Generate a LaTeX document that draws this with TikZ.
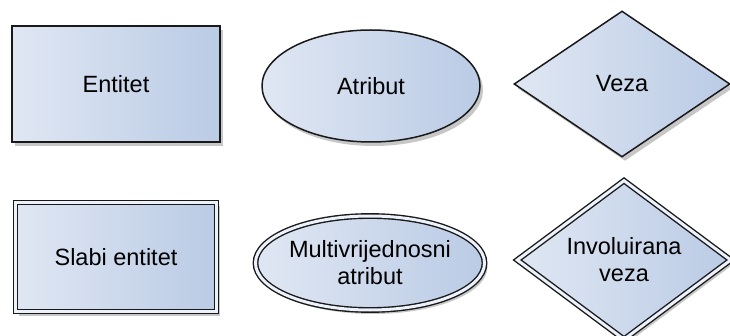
\documentclass[tikz,border=0pt]{standalone}
\usepackage{fontspec}
\setmainfont{Liberation Sans}
\usetikzlibrary{shapes.geometric}
\usetikzlibrary{shadows}

\definecolor{lite}{RGB}{224,231,243}
\definecolor{dark}{RGB}{186,203,229}
\definecolor{edge}{RGB}{25,25,25}
\definecolor{gap}{RGB}{236,241,250}

\begin{document}
\begin{tikzpicture}[x=1pt, y=-1pt,
    base/.style={draw=edge, line width=1.5pt, left color=lite, right color=dark,
        inner sep=0pt, align=center, font=\fontsize{23.5}{27}\selectfont,
        drop shadow={shadow xshift=3pt, shadow yshift=-4pt, opacity=0.22, fill=black}},
    ent/.style={base, rectangle, minimum width=#1, minimum height=116pt},
    atr/.style={base, ellipse},
    rel/.style={base, diamond},
    dbl/.style={double=gap, double distance=3pt, line width=1.4pt}]
    \useasboundingbox (0, 0) rectangle (730, 336);
    % gornji red
    \node[ent=208pt] (entitet) at (116, 84) {Entitet};
    \node[atr, minimum width=218pt, minimum height=112pt] (atribut) at (371, 86) {Atribut};
    \node[rel, minimum width=216pt, minimum height=146pt] (veza) at (622, 84) {Veza};
    % donji red
    \node[ent=201pt, dbl, minimum height=109pt] (slabi) at (116, 257) {Slabi entitet};
    \node[atr, dbl, minimum width=211pt, minimum height=94pt] (multi) at (370, 263) {Multivrijednosni\\atribut};
    \node[rel, dbl, minimum width=214pt, minimum height=137pt] (invol) at (624, 260) {Involuirana\\veza};
\end{tikzpicture}
\end{document}
